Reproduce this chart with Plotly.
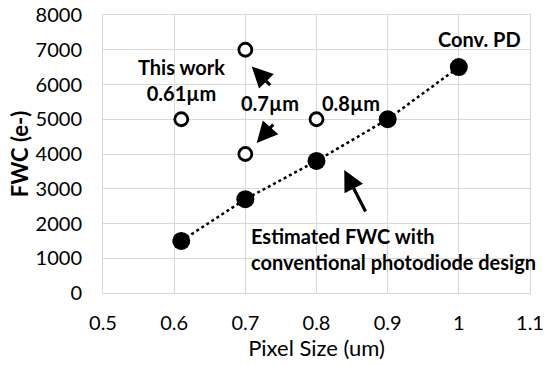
import plotly.graph_objects as go

# Data
open_x = [0.61, 0.7, 0.7, 0.8]
open_y = [5000, 7000, 4000, 5000]
conv_x = [0.61, 0.7, 0.8, 0.9, 1.0]
conv_y = [1500, 2700, 3800, 5000, 6500]

x_ticks = [0.5, 0.6, 0.7, 0.8, 0.9, 1.0, 1.1]
x_labels = ["0.5", "0.6", "0.7", "0.8", "0.9", "1", "1.1"]
y_ticks = [0, 1000, 2000, 3000, 4000, 5000, 6000, 7000, 8000]

FONT = "Lato"

fig = go.Figure()
fig.add_trace(go.Scatter(
    x=conv_x, y=conv_y, mode="lines+markers",
    line=dict(color="black", width=2.5, dash="dot"),
    marker=dict(size=18, color="black", symbol="circle"),
    showlegend=False,
))
fig.add_trace(go.Scatter(
    x=open_x, y=open_y, mode="markers",
    marker=dict(size=13, color="white", symbol="circle",
                line=dict(color="black", width=2.8)),
    showlegend=False,
))

bold = dict(family=FONT, size=20, color="black")
texts = [
    (0.61, 6130, "<b>This work<br>0.61µm</b>", "center"),
    (0.734, 5468, "<b>0.7µm</b>", "center"),
    (0.849, 5468, "<b>0.8µm</b>", "center"),
    (1.029, 7310, "<b>Conv. PD</b>", "center"),
]
for x, y, t, a in texts:
    fig.add_annotation(x=x, y=y, text=t, showarrow=False, font=bold,
                       xanchor=a, yanchor="middle", align="center")
fig.add_annotation(x=0.705, y=1266, text="<b>Estimated FWC with<br>conventional photodiode design</b>",
                   showarrow=False, font=bold, xanchor="left", yanchor="middle", align="left")

arrows = [
    ((0.709, 6518), (0.737, 5942)),
    ((0.716, 4317), (0.741, 4892)),
    ((0.839, 3540), (0.870, 2302)),
]
for (hx, hy), (tx, ty) in arrows:
    fig.add_annotation(x=hx, y=hy, ax=tx, ay=ty, axref="x", ayref="y",
                       xref="x", yref="y", text="", showarrow=True,
                       arrowhead=2, arrowsize=1.3, arrowwidth=3.2,
                       arrowcolor="black", standoff=0, startstandoff=0)

fig.update_xaxes(range=[0.5, 1.1], tickvals=x_ticks, ticktext=x_labels,
                 showgrid=True, gridcolor="#d9d9d9", gridwidth=1.3,
                 showline=True, linecolor="#d9d9d9", mirror=True, zeroline=False,
                 ticks="", ticklabelstandoff=12, automargin=False,
                 tickfont=dict(family=FONT, size=20, color="black"),
                 title=dict(text="Pixel Size (um)", font=dict(family=FONT, size=22, color="black"),
                            standoff=2))
fig.update_yaxes(range=[0, 8000], tickvals=y_ticks,
                 showgrid=True, gridcolor="#d9d9d9", gridwidth=1.3,
                 showline=True, linecolor="#d9d9d9", mirror=True, zeroline=False,
                 ticks="", ticklabelstandoff=16, automargin=False,
                 tickfont=dict(family=FONT, size=20, color="black"),
                 title=dict(text="<b>FWC (e-)</b>", font=dict(family=FONT, size=22, color="black"),
                            standoff=0))

fig.update_layout(
    width=547, height=365,
    margin=dict(l=103, r=17, t=15, b=72),
    plot_bgcolor="white", paper_bgcolor="white",
)

fig.write_html("out.html")
